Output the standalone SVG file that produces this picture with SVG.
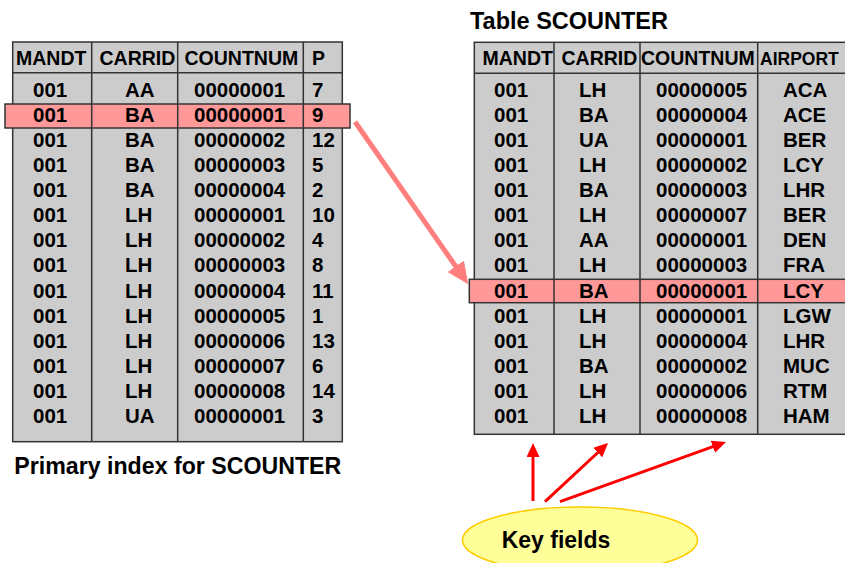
<svg xmlns="http://www.w3.org/2000/svg" width="845" height="563" viewBox="0 0 845 563">
<style>
text{font-family:"Liberation Sans",Arial,sans-serif;font-weight:bold;fill:#000}
.h{font-size:19.5px}
.d{font-size:20.5px}
.t{font-size:23px}
.tbl{fill:#cccccc;stroke:#333;stroke-width:1.5}
.hl{fill:#ff9999;stroke:#333;stroke-width:1.5}
.ln{stroke:#333;stroke-width:1.5;fill:none}
</style>
<defs>
<marker id="ar" markerUnits="userSpaceOnUse" markerWidth="14" markerHeight="13" refX="6" refY="6.5" orient="auto"><path d="M0,0 L14,6.5 L0,13 z" fill="#ff0000"/></marker>
<marker id="ap" markerUnits="userSpaceOnUse" markerWidth="22" markerHeight="20" refX="10" refY="10" orient="auto"><path d="M0,0 L22,10 L0,20 z" fill="#ff7f7f"/></marker>
</defs>

<g id="index-table">
<rect class="tbl" x="12.7" y="42" width="329.6" height="399.7"/>
<rect class="hl" x="5" y="104" width="345" height="24"/>
<path class="ln" d="M12.7,72.7H342.3M91.7,42V441.7M177.7,42V441.7M303.3,42V441.7"/>
<g class="h">
<text x="16" y="65">MANDT</text><text x="99.5" y="65">CARRID</text><text x="184.5" y="65">COUNTNUM</text><text x="312" y="65">P</text>
</g>
<g class="d">
<text x="33" y="96.7">001</text><text x="125" y="96.7">AA</text><text x="194" y="96.7">00000001</text><text x="312" y="96.7">7</text>
<text x="33" y="121.8">001</text><text x="125" y="121.8">BA</text><text x="194" y="121.8">00000001</text><text x="312" y="121.8">9</text>
<text x="33" y="146.9">001</text><text x="125" y="146.9">BA</text><text x="194" y="146.9">00000002</text><text x="312" y="146.9">12</text>
<text x="33" y="172">001</text><text x="125" y="172">BA</text><text x="194" y="172">00000003</text><text x="312" y="172">5</text>
<text x="33" y="197.1">001</text><text x="125" y="197.1">BA</text><text x="194" y="197.1">00000004</text><text x="312" y="197.1">2</text>
<text x="33" y="222.2">001</text><text x="125" y="222.2">LH</text><text x="194" y="222.2">00000001</text><text x="312" y="222.2">10</text>
<text x="33" y="247.3">001</text><text x="125" y="247.3">LH</text><text x="194" y="247.3">00000002</text><text x="312" y="247.3">4</text>
<text x="33" y="272.4">001</text><text x="125" y="272.4">LH</text><text x="194" y="272.4">00000003</text><text x="312" y="272.4">8</text>
<text x="33" y="297.5">001</text><text x="125" y="297.5">LH</text><text x="194" y="297.5">00000004</text><text x="312" y="297.5">11</text>
<text x="33" y="322.6">001</text><text x="125" y="322.6">LH</text><text x="194" y="322.6">00000005</text><text x="312" y="322.6">1</text>
<text x="33" y="347.7">001</text><text x="125" y="347.7">LH</text><text x="194" y="347.7">00000006</text><text x="312" y="347.7">13</text>
<text x="33" y="372.8">001</text><text x="125" y="372.8">LH</text><text x="194" y="372.8">00000007</text><text x="312" y="372.8">6</text>
<text x="33" y="397.9">001</text><text x="125" y="397.9">LH</text><text x="194" y="397.9">00000008</text><text x="312" y="397.9">14</text>
<text x="33" y="423">001</text><text x="125" y="423">UA</text><text x="194" y="423">00000001</text><text x="312" y="423">3</text>
</g>
<text class="t" x="14.3" y="474.3" textLength="327" lengthAdjust="spacingAndGlyphs">Primary index for SCOUNTER</text>
</g>

<g id="scounter-table">
<text class="t" x="470" y="29.3" textLength="198" lengthAdjust="spacingAndGlyphs">Table SCOUNTER</text>
<rect class="tbl" x="474.3" y="42.3" width="400" height="392"/>
<rect class="hl" x="469.3" y="279.3" width="400" height="23.4"/>
<path class="ln" d="M474.3,73.3H874.3M554,42.3V434.3M640,42.3V434.3M757.7,42.3V434.3"/>
<g class="h">
<text x="482.5" y="65.3">MANDT</text><text x="561.5" y="65.3">CARRID</text><text x="641" y="65.3">COUNTNUM</text><text x="760" y="65.3" style="font-size:17.5px">AIRPORT</text>
</g>
<g class="d">
<text x="494" y="96.7">001</text><text x="579" y="96.7">LH</text><text x="656" y="96.7">00000005</text><text x="783" y="96.7">ACA</text>
<text x="494" y="121.8">001</text><text x="579" y="121.8">BA</text><text x="656" y="121.8">00000004</text><text x="783" y="121.8">ACE</text>
<text x="494" y="146.9">001</text><text x="579" y="146.9">UA</text><text x="656" y="146.9">00000001</text><text x="783" y="146.9">BER</text>
<text x="494" y="172">001</text><text x="579" y="172">LH</text><text x="656" y="172">00000002</text><text x="783" y="172">LCY</text>
<text x="494" y="197.1">001</text><text x="579" y="197.1">BA</text><text x="656" y="197.1">00000003</text><text x="783" y="197.1">LHR</text>
<text x="494" y="222.2">001</text><text x="579" y="222.2">LH</text><text x="656" y="222.2">00000007</text><text x="783" y="222.2">BER</text>
<text x="494" y="247.3">001</text><text x="579" y="247.3">AA</text><text x="656" y="247.3">00000001</text><text x="783" y="247.3">DEN</text>
<text x="494" y="272.4">001</text><text x="579" y="272.4">LH</text><text x="656" y="272.4">00000003</text><text x="783" y="272.4">FRA</text>
<text x="494" y="297.5">001</text><text x="579" y="297.5">BA</text><text x="656" y="297.5">00000001</text><text x="783" y="297.5">LCY</text>
<text x="494" y="322.6">001</text><text x="579" y="322.6">LH</text><text x="656" y="322.6">00000001</text><text x="783" y="322.6">LGW</text>
<text x="494" y="347.7">001</text><text x="579" y="347.7">LH</text><text x="656" y="347.7">00000004</text><text x="783" y="347.7">LHR</text>
<text x="494" y="372.8">001</text><text x="579" y="372.8">BA</text><text x="656" y="372.8">00000002</text><text x="783" y="372.8">MUC</text>
<text x="494" y="397.9">001</text><text x="579" y="397.9">LH</text><text x="656" y="397.9">00000006</text><text x="783" y="397.9">RTM</text>
<text x="494" y="423">001</text><text x="579" y="423">LH</text><text x="656" y="423">00000008</text><text x="783" y="423">HAM</text>
</g>
</g>

<g id="key-fields">
<ellipse cx="580" cy="540" rx="117.5" ry="33" fill="#ffff99" stroke="#ffcc00" stroke-width="1.5"/>
<text class="t" x="501.7" y="548.3">Key fields</text>
</g>

<g id="connectors">
<line x1="355" y1="121.7" x2="461.4" y2="274.5" stroke="#ff7f7f" stroke-width="5" marker-end="url(#ap)"/>
<line x1="533" y1="501" x2="533" y2="451" stroke="#ff0000" stroke-width="3" marker-end="url(#ar)"/>
<line x1="545" y1="501.7" x2="602.2" y2="448.5" stroke="#ff0000" stroke-width="3" marker-end="url(#ar)"/>
<line x1="560" y1="501.7" x2="718.5" y2="444.7" stroke="#ff0000" stroke-width="3" marker-end="url(#ar)"/>
</g>
</svg>
